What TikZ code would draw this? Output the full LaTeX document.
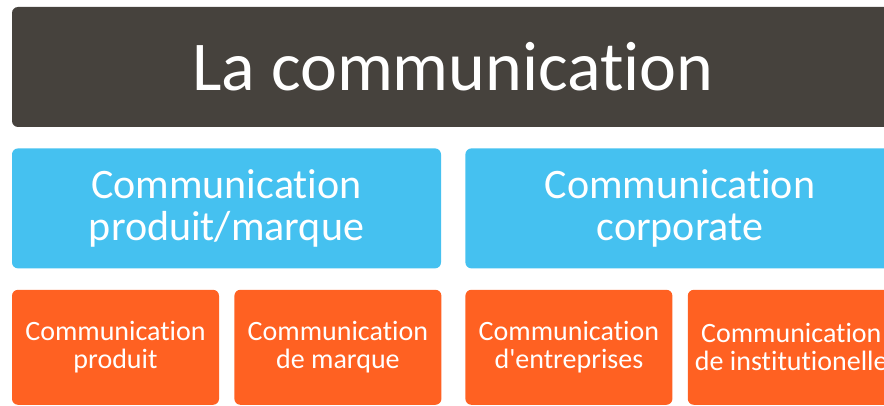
\documentclass[tikz,border=0pt]{standalone}
\usepackage{fontspec}
\setmainfont{Carlito}[Ligatures={CommonOff,TeXOff}]
\usetikzlibrary{positioning}
\definecolor{lcdark}{RGB}{70,66,61}
\definecolor{lcblue}{RGB}{69,193,240}
\definecolor{lcorange}{RGB}{255,97,34}
\tikzstyle{titlebox} = [rounded corners=6pt,fill=lcdark,text=white,minimum width=882pt,minimum height=120pt,inner sep=0pt,font=\fontsize{70}{70}\selectfont]
\tikzstyle{groupbox} = [rounded corners=6pt,fill=lcblue,text=white,minimum width=429pt,minimum height=120pt,inner sep=0pt,align=center,font=\fontsize{42}{42}\selectfont]
\tikzstyle{itembox} = [rounded corners=6pt,fill=lcorange,text=white,minimum width=207pt,minimum height=115pt,inner sep=0pt,align=center,font=\fontsize{28}{28}\selectfont]

\begin{document}
\begin{tikzpicture}[x=1pt,y=1pt]
\clip (0,0) rectangle (884,405);
% Title
\node[titlebox] (title) at (453,338) {La communication};

% Two kinds of communication
\node[groupbox, below=21pt of title.south west, anchor=north west] (prod) {Communication\\produit/marque};
\node[groupbox, right=24pt of prod] (corp) {Communication\\corporate};

% Items of each kind
\node[itembox, below=21pt of prod.south west, anchor=north west] (produit) {Communication\\produit};
\node[itembox, right=15pt of produit] (marque) {Communication\\de marque};
\node[itembox, below=21pt of corp.south west, anchor=north west] (entreprises) {Communication\\d'entreprises};
\node[itembox, right=15pt of entreprises] (institution) {Communication\\de institutionelle};
\end{tikzpicture}
\end{document}
